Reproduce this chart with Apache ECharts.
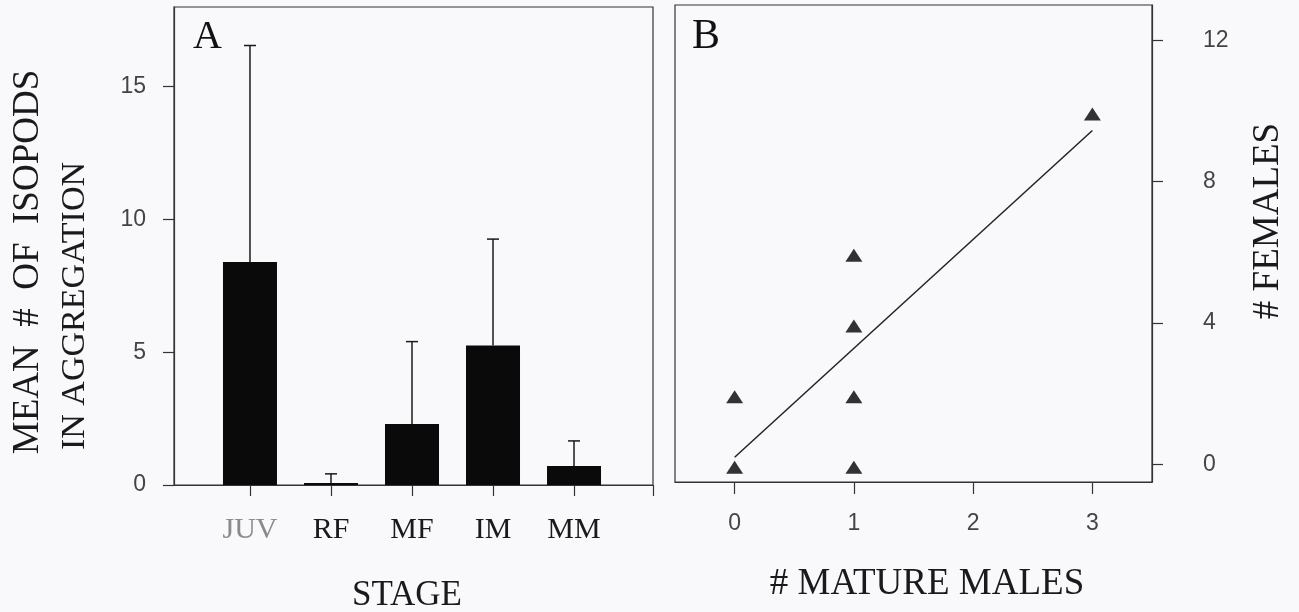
<!DOCTYPE html>
<html>
<head>
<meta charset="utf-8">
<script src="https://cdn.jsdelivr.net/npm/echarts@6/dist/echarts.min.js"></script>
<style>
html,body{margin:0;padding:0;background:#f9f9fb;}
#c{width:1299px;height:612px;}
</style>
</head>
<body>
<div id="c"></div>
<script>
// ---- Panel A data ----
const stages = ['JUV', 'RF', 'MF', 'IM', 'MM'];
const stagePos = [1, 2, 3, 4, 5];
const meanCounts = [8.4, 0.08, 2.3, 5.25, 0.72];
const errorTops = [16.55, 0.42, 5.4, 9.26, 1.66];
const yTicksA = [0, 5, 10, 15];

// ---- Panel B data ----
const matureMales = [0, 0, 1, 1, 1, 1, 3];
const females = [0, 2, 0, 2, 4, 6, 10];
const fitLine = [[0, 0.2], [3, 9.45]];
const xTicksB = [0, 1, 2, 3];
const yTicksB = [0, 4, 8, 12];

const SERIF = '"Liberation Serif", "Times New Roman", serif';
const SANS = '"Liberation Sans", Arial, sans-serif';
const AX = '#333';

const chart = echarts.init(document.getElementById('c'));

const option = {
  animation: false,
  backgroundColor: '#f9f9fb',
  grid: [
    {left: 174, top: 7, width: 479, height: 478, show: true, borderColor: AX, borderWidth: 1.2, backgroundColor: 'transparent'},
    {left: 675, top: 5, width: 477, height: 477, show: true, borderColor: AX, borderWidth: 1.2, backgroundColor: 'transparent'}
  ],
  xAxis: [
    {
      type: 'value', gridIndex: 0, min: 0.062, max: 5.975,
      axisLine: {show: true, onZero: false, lineStyle: {color: AX, width: 1.2}},
      axisTick: {show: true, inside: false, length: 11, lineStyle: {color: AX, width: 1.2}, customValues: stagePos.concat([5.975])},
      axisLabel: {
        customValues: stagePos,
        margin: 30,
        formatter: function (v) {
          const i = stagePos.indexOf(v);
          if (i < 0) return '';
          return (i === 0 ? '{g|' : '{d|') + stages[i] + '}';
        },
        rich: {
          g: {color: '#8a8a8a', fontFamily: SERIF, fontSize: 30},
          d: {color: '#1a1a1a', fontFamily: SERIF, fontSize: 30}
        }
      },
      splitLine: {show: false}
    },
    {
      type: 'value', gridIndex: 1, min: -0.5, max: 3.5,
      axisLine: {show: true, onZero: false, lineStyle: {color: AX, width: 1.2}},
      axisTick: {show: true, inside: false, length: 12, lineStyle: {color: AX, width: 1.2}, customValues: xTicksB},
      axisLabel: {customValues: xTicksB, margin: 30, color: '#444', fontFamily: SANS, fontSize: 23},
      splitLine: {show: false}
    }
  ],
  yAxis: [
    {
      type: 'value', gridIndex: 0, min: 0, max: 18,
      axisLine: {show: true, onZero: false, lineStyle: {color: AX, width: 1.2}},
      axisTick: {show: true, inside: false, length: 11, lineStyle: {color: AX, width: 1.2}, customValues: yTicksA},
      axisLabel: {customValues: yTicksA, margin: 28, color: '#444', fontFamily: SANS, fontSize: 23},
      splitLine: {show: false}
    },
    {
      type: 'value', gridIndex: 1, position: 'right', min: -0.5, max: 13,
      axisLine: {show: true, onZero: false, lineStyle: {color: AX, width: 1.2}},
      axisTick: {show: true, inside: false, length: 11, lineStyle: {color: AX, width: 1.2}, customValues: yTicksB},
      axisLabel: {customValues: yTicksB, margin: 51, color: '#444', fontFamily: SANS, fontSize: 23},
      splitLine: {show: false}
    }
  ],
  series: [
    {
      type: 'bar', xAxisIndex: 0, yAxisIndex: 0,
      data: stagePos.map((x, i) => [x, meanCounts[i]]),
      barWidth: 54,
      itemStyle: {color: '#0a0a0a'},
      z: 2
    },
    {
      type: 'custom', xAxisIndex: 0, yAxisIndex: 0,
      data: stagePos.map((x, i) => [x, errorTops[i], meanCounts[i]]),
      encode: {x: 0, y: [1, 2]},
      z: 3,
      renderItem: function (params, api) {
        const x = api.value(0);
        const pTop = api.coord([x, api.value(1)]);
        const pBase = api.coord([x, api.value(2)]);
        const st = {stroke: '#1a1a1a', lineWidth: 1.5};
        return {
          type: 'group',
          children: [
            {type: 'line', shape: {x1: pBase[0], y1: pBase[1], x2: pTop[0], y2: pTop[1]}, style: st},
            {type: 'line', shape: {x1: pTop[0] - 6, y1: pTop[1], x2: pTop[0] + 6, y2: pTop[1]}, style: st}
          ]
        };
      }
    },
    {
      type: 'line', xAxisIndex: 1, yAxisIndex: 1,
      data: fitLine,
      showSymbol: false, symbol: 'none',
      lineStyle: {color: '#222', width: 1.5},
      z: 2
    },
    {
      type: 'scatter', xAxisIndex: 1, yAxisIndex: 1,
      data: matureMales.map((x, i) => [x, females[i]]),
      symbol: 'triangle', symbolSize: [17, 13], symbolOffset: [0, 3],
      itemStyle: {color: '#000'},
      z: 3
    }
  ],
  graphic: [
    {type: 'text', left: 193, top: 17, style: {text: 'A', font: '40px ' + SERIF, fill: '#111'}},
    {type: 'text', left: 692, top: 16, style: {text: 'B', font: '42px ' + SERIF, fill: '#111'}},
    {type: 'text', x: 28, y: 262, rotation: Math.PI / 2,
      style: {text: 'MEAN  #  OF  ISOPODS', font: '37px ' + SERIF, fill: '#1a1a1a', align: 'center', verticalAlign: 'middle'}},
    {type: 'text', x: 75, y: 306, rotation: Math.PI / 2,
      style: {text: 'IN AGGREGATION', font: '34px ' + SERIF, fill: '#1a1a1a', align: 'center', verticalAlign: 'middle'}},
    {type: 'text', x: 407, y: 596, style: {text: 'STAGE', font: '35px ' + SERIF, fill: '#1a1a1a', align: 'center', verticalAlign: 'middle'}},
    {type: 'text', x: 927, y: 584, style: {text: '# MATURE MALES', font: '37px ' + SERIF, fill: '#1a1a1a', align: 'center', verticalAlign: 'middle'}},
    {type: 'text', x: 1268, y: 221, rotation: Math.PI / 2,
      style: {text: '# FEMALES', font: '37px ' + SERIF, fill: '#1a1a1a', align: 'center', verticalAlign: 'middle'}}
  ]
};

chart.setOption(option);
</script>
</body>
</html>
